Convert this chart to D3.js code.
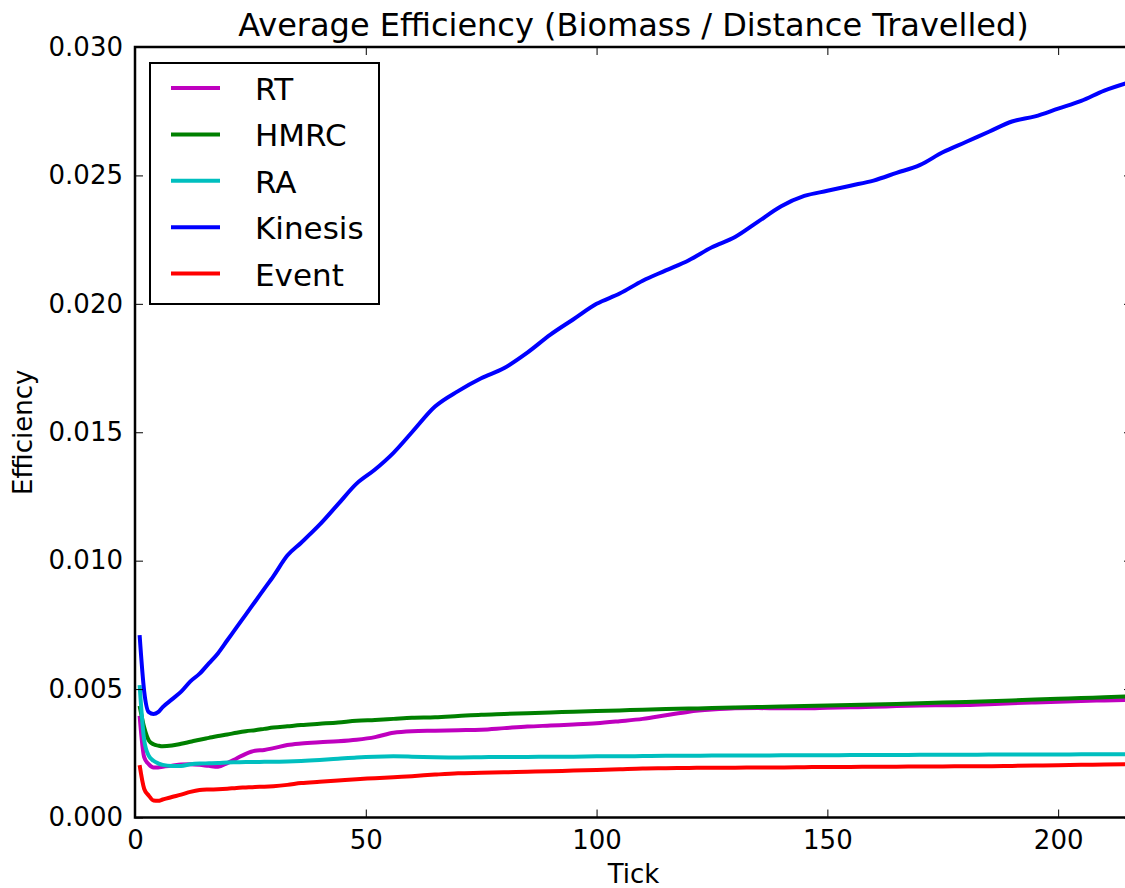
<!DOCTYPE html>
<html>
<head>
<meta charset="utf-8">
<script src="https://cdn.jsdelivr.net/npm/d3@7"></script>
<style>
  body { margin: 0; background: #fff; }
  svg { display: block; font-family: "DejaVu Sans", sans-serif; }
</style>
</head>
<body>
<div></div>
<script>
const width = 1125;
const height = 888;
const margin = { top: 47, right: -7, bottom: 70, left: 135 };

const ticks = [1, 2, 3, 4, 5, 6, 8, 10, 12, 14, 16, 18, 20, 22, 24, 26, 28, 30, 33, 36, 40, 44, 48, 52, 56, 60, 65, 70, 75, 80, 85, 90, 95, 100, 105, 110, 115, 120, 125, 130, 135, 140, 145, 150, 155, 160, 165, 170, 175, 180, 185, 190, 195, 200, 205, 210, 215];

const rt = [0.00396, 0.00234, 0.00207, 0.00195, 0.00195, 0.00198, 0.00202, 0.00206, 0.00207, 0.00205, 0.00201, 0.00198, 0.00212, 0.0023, 0.00248, 0.0026, 0.00263, 0.0027, 0.00282, 0.00288, 0.00293, 0.00297, 0.00303, 0.00313, 0.0033, 0.00336, 0.00338, 0.0034, 0.00342, 0.00348, 0.00354, 0.00358, 0.00362, 0.00367, 0.00375, 0.00384, 0.00398, 0.00412, 0.0042, 0.00425, 0.00426, 0.00425, 0.00425, 0.00427, 0.00429, 0.00431, 0.00434, 0.00436, 0.00437, 0.00438, 0.00441, 0.00445, 0.00448, 0.00451, 0.00454, 0.00456, 0.00458];

const hmrc = [0.00435, 0.0035, 0.003, 0.00285, 0.0028, 0.00277, 0.0028, 0.00287, 0.00295, 0.00303, 0.0031, 0.00317, 0.00323, 0.0033, 0.00336, 0.0034, 0.00345, 0.0035, 0.00355, 0.0036, 0.00365, 0.0037, 0.00377, 0.0038, 0.00384, 0.00388, 0.0039, 0.00395, 0.004, 0.00403, 0.00406, 0.00409, 0.00412, 0.00415, 0.00417, 0.0042, 0.00422, 0.00424, 0.00426, 0.00428, 0.0043, 0.00432, 0.00434, 0.00436, 0.00438, 0.0044, 0.00442, 0.00445, 0.00448, 0.0045, 0.00453, 0.00456, 0.00459, 0.00462, 0.00465, 0.00468, 0.00471];

const ra = [0.00515, 0.003, 0.0024, 0.00221, 0.00211, 0.00205, 0.00201, 0.00201, 0.00207, 0.0021, 0.00211, 0.00212, 0.00214, 0.00215, 0.00216, 0.00216, 0.00217, 0.00217, 0.00218, 0.0022, 0.00224, 0.00229, 0.00234, 0.00237, 0.00238, 0.00237, 0.00235, 0.00234, 0.00235, 0.00236, 0.00236, 0.00237, 0.00237, 0.00238, 0.00238, 0.00239, 0.0024, 0.0024, 0.00241, 0.00241, 0.00241, 0.00242, 0.00242, 0.00242, 0.00243, 0.00243, 0.00243, 0.00244, 0.00244, 0.00244, 0.00245, 0.00245, 0.00245, 0.00245, 0.00246, 0.00246, 0.00246];

const kinesis = [0.0071, 0.0049, 0.0041, 0.00403, 0.0041, 0.0043, 0.0046, 0.0049, 0.0053, 0.0056, 0.006, 0.0064, 0.0069, 0.0074, 0.0079, 0.0084, 0.0089, 0.0094, 0.0102, 0.0107, 0.0114, 0.0122, 0.013, 0.01355, 0.0142, 0.015, 0.016, 0.0166, 0.0171, 0.0175, 0.0181, 0.0188, 0.0194, 0.02, 0.0204, 0.0209, 0.0213, 0.0217, 0.0222, 0.0226, 0.0232, 0.0238, 0.0242, 0.0244, 0.0246, 0.0248, 0.0251, 0.0254, 0.0259, 0.0263, 0.0267, 0.0271, 0.0273, 0.0276, 0.0279, 0.0283, 0.0286];

const event = [0.00204, 0.00111, 0.00085, 0.00066, 0.00065, 0.0007, 0.0008, 0.00089, 0.001, 0.00107, 0.00109, 0.0011, 0.00112, 0.00115, 0.00117, 0.00119, 0.0012, 0.00122, 0.00127, 0.00134, 0.00139, 0.00144, 0.00149, 0.00153, 0.00157, 0.00161, 0.00167, 0.00172, 0.00174, 0.00176, 0.00178, 0.0018, 0.00183, 0.00185, 0.00188, 0.00191, 0.00192, 0.00193, 0.00194, 0.00194, 0.00195, 0.00195, 0.00196, 0.00197, 0.00197, 0.00198, 0.00198, 0.00199, 0.00199, 0.002, 0.002, 0.00201, 0.00202, 0.00203, 0.00205, 0.00206, 0.00208];

const seriesNames = ["RT", "HMRC", "RA", "Kinesis", "Event"];
const seriesValues = [rt, hmrc, ra, kinesis, event];
const colours = ["#bf00bf", "#008000", "#00bfbf", "#0000ff", "#ff0000"];

const xTicks = [0, 50, 100, 150, 200];
const yTicks = [0, 0.005, 0.01, 0.015, 0.02, 0.025, 0.03];

const svg = d3
  .select("div")
  .append("svg")
  .attr("width", width)
  .attr("height", height);

const x = d3
  .scaleLinear()
  .domain([0, 216])
  .range([margin.left, width - margin.right]);

const y = d3
  .scaleLinear()
  .domain([0, 0.03])
  .range([height - margin.bottom - 0.5, margin.top]);

svg
  .append("clipPath")
  .attr("id", "plot-clip")
  .append("rect")
  .attr("x", x(0))
  .attr("y", y(0.03))
  .attr("width", x(216) - x(0))
  .attr("height", y(0) - y(0.03));

// lines
const line = d3
  .line()
  .x((d, i) => x(ticks[i]))
  .y((d) => y(d))
  .curve(d3.curveMonotoneX);

svg
  .append("g")
  .attr("clip-path", "url(#plot-clip)")
  .selectAll("path")
  .data(seriesValues)
  .enter()
  .append("path")
  .attr("d", line)
  .attr("fill", "none")
  .attr("stroke", (d, i) => colours[i])
  .attr("stroke-width", 4)
  .attr("stroke-linejoin", "round");

// ticks pointing inwards, on all four sides (matplotlib classic)
const tickLen = 8;
const fmtY = d3.format(".3f");

const bottomAxis = d3.axisBottom(x).tickValues(xTicks).tickSize(-tickLen).tickPadding(13);
const topAxis = d3.axisTop(x).tickValues(xTicks).tickSize(-tickLen).tickFormat("");
const leftAxis = d3.axisLeft(y).tickValues(yTicks).tickSize(-tickLen).tickFormat(fmtY).tickPadding(12);
const rightAxis = d3.axisRight(y).tickValues(yTicks).tickSize(-tickLen).tickFormat("");

svg.append("g").attr("class", "axis").attr("transform", `translate(0,${y(0)})`).call(bottomAxis);
svg.append("g").attr("class", "axis").attr("transform", `translate(0,${y(0.03)})`).call(topAxis);
svg.append("g").attr("class", "axis").attr("transform", `translate(${x(0)},0)`).call(leftAxis);
svg.append("g").attr("class", "axis").attr("transform", `translate(${x(216)},0)`).call(rightAxis);

svg.selectAll(".axis .domain").remove();
svg.selectAll(".axis line").attr("stroke", "#000").attr("stroke-width", 1);
svg
  .selectAll(".axis text")
  .attr("fill", "#000")
  .style("font-size", "26px")
  .style("font-family", "DejaVu Sans");

// frame
svg
  .append("rect")
  .attr("x", x(0))
  .attr("y", y(0.03))
  .attr("width", x(216) - x(0))
  .attr("height", y(0) - y(0.03))
  .attr("fill", "none")
  .attr("stroke", "#000")
  .attr("stroke-width", 2.5);

// title and labels
svg
  .append("text")
  .attr("x", (x(0) + x(216)) / 2)
  .attr("y", 36)
  .attr("text-anchor", "middle")
  .style("font-size", "32px")
  .text("Average Efficiency (Biomass / Distance Travelled)");

svg
  .append("text")
  .attr("x", (x(0) + x(216)) / 2)
  .attr("y", 883)
  .attr("text-anchor", "middle")
  .style("font-size", "26px")
  .text("Tick");

svg
  .append("text")
  .attr("transform", `translate(32,${(y(0) + y(0.03)) / 2}) rotate(-90)`)
  .attr("text-anchor", "middle")
  .style("font-size", "26px")
  .text("Efficiency");

// legend
const legend = svg.append("g").attr("id", "legend");

legend
  .append("rect")
  .attr("x", 150)
  .attr("y", 63)
  .attr("width", 229)
  .attr("height", 241)
  .attr("fill", "#fff")
  .attr("stroke", "#000")
  .attr("stroke-width", 2);

const rows = legend
  .selectAll("g.row")
  .data(seriesNames)
  .enter()
  .append("g")
  .attr("class", "row")
  .attr("transform", (d, i) => `translate(0,${88 + i * 46.4})`);

rows
  .append("line")
  .attr("x1", 171)
  .attr("x2", 220)
  .attr("stroke", (d, i) => colours[i])
  .attr("stroke-width", 4);

rows
  .append("text")
  .attr("x", 255)
  .attr("y", 12)
  .style("font-size", "31px")
  .text((d) => d);
</script>
</body>
</html>
